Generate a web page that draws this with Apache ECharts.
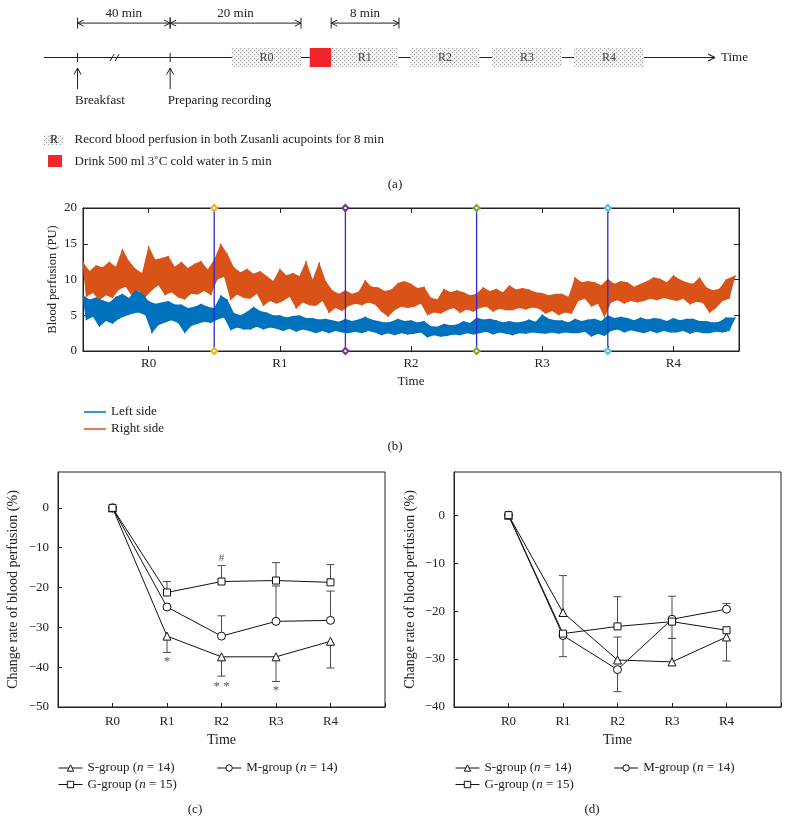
<!DOCTYPE html>
<html>
<head>
<meta charset="utf-8">
<script src="https://cdn.jsdelivr.net/npm/echarts@6/dist/echarts.min.js"></script>
<style>
html,body{margin:0;padding:0;background:#fff;}
#chart{width:790px;height:836px;}
</style>
</head>
<body>
<div id="chart"></div>
<script>
// ---------------- DATA ----------------
// Panel (a): schematic timeline (diagram units 0..100)
const stageLabels = ['R0','R1','R2','R3','R4'];
const stageStart = [28.0, 42.8, 54.6, 66.8, 79.0];
const stageEnd   = [38.3, 52.8, 64.9, 77.2, 89.4];
const drinkSpan = [39.6, 42.8];
const eventPos = [5.0, 18.8];
const eventLabels = ['Breakfast', 'Preparing recording'];
const breakPos = [10.6];
const spanStart = [5.0, 18.8, 42.8];
const spanEnd = [18.8, 38.3, 52.9];
const spanLabels = ['40 min', '20 min', '8 min'];

// Panel (b): blood perfusion traces (PU), one sample every 0.2 min, 40 min total
const sampleStep = 0.2;
const rightSide = [
 12.4, 7.6, 11.2, 8.1, 12.0,
 7.1, 11.7, 7.8, 12.5, 7.4,
 11.8, 8.6, 14.3, 9.0, 12.6,
 7.6, 11.5, 8.4, 10.9, 7.5,
 14.7, 8.5, 12.8, 9.2, 13.0,
 7.8, 13.3, 8.2, 11.8, 7.5,
 12.5, 7.2, 11.6, 8.0, 12.2,
 7.9, 12.6, 8.4, 11.4, 7.8,
 12.8, 10.0, 15.0, 10.4, 13.6,
 7.1, 11.7, 7.9, 11.0, 7.4,
 11.5, 7.3, 10.8, 8.0, 11.2,
 6.3, 10.5, 7.0, 9.8, 6.6,
 11.5, 7.0, 10.6, 7.6, 10.9,
 5.9, 10.5, 6.8, 12.6, 6.4,
 10.0, 6.3, 12.4, 7.0, 9.8,
 5.3, 8.5, 6.0, 8.0, 5.6,
 8.5, 6.3, 8.0, 6.6, 8.3,
 6.4, 9.9, 6.8, 9.0, 6.5,
 8.9, 5.5, 8.4, 4.8, 8.6,
 5.7, 9.5, 6.2, 9.8, 6.0,
 9.4, 6.2, 8.8, 6.6, 9.0,
 5.0, 7.5, 5.4, 7.2, 5.2,
 8.7, 5.7, 8.2, 6.0, 8.5,
 5.3, 8.2, 5.8, 7.8, 5.5,
 8.0, 6.0, 8.9, 6.2, 8.4,
 5.5, 8.7, 5.9, 8.2, 5.7,
 9.2, 5.7, 8.6, 6.0, 8.8,
 5.8, 8.6, 6.1, 8.2, 5.9,
 8.1, 5.2, 7.8, 5.6, 8.0,
 5.0, 8.0, 5.4, 7.6, 5.2,
 10.3, 7.0, 9.6, 7.3, 9.8,
 6.2, 9.6, 6.6, 9.2, 4.7,
 10.1, 6.8, 9.4, 7.1, 9.8,
 6.6, 9.6, 7.0, 9.0, 6.8,
 9.4, 7.0, 9.8, 7.3, 10.3,
 7.1, 10.1, 7.4, 9.6, 7.2,
 10.6, 7.0, 10.0, 7.3, 9.6,
 6.5, 9.4, 6.9, 10.3, 6.7,
 8.9, 5.3, 8.5, 6.0, 8.7,
 7.0, 10.0, 7.3, 9.6, 10.6
];
const leftSide = [
 7.8, 4.3, 7.2, 4.8, 7.5,
 3.4, 7.1, 4.2, 6.8, 3.8,
 7.6, 4.5, 8.0, 4.9, 7.4,
 5.2, 8.5, 5.4, 8.1, 5.0,
 7.0, 2.5, 6.6, 3.6, 6.8,
 4.0, 7.0, 4.3, 6.5, 3.9,
 6.5, 2.5, 6.0, 3.5, 6.2,
 3.8, 6.6, 4.1, 6.2, 3.9,
 6.0, 4.4, 7.8, 4.7, 7.2,
 2.9, 5.3, 3.3, 5.0, 3.0,
 5.5, 3.0, 6.2, 3.4, 5.6,
 3.0, 5.4, 3.3, 5.0, 3.1,
 5.0, 2.8, 4.7, 3.1, 4.9,
 2.7, 5.0, 3.0, 4.6, 2.8,
 4.6, 2.5, 4.4, 2.8, 4.5,
 2.5, 4.3, 2.8, 4.1, 2.6,
 4.5, 2.5, 4.2, 2.7, 4.4,
 2.5, 4.8, 2.8, 4.4, 2.6,
 4.2, 2.2, 4.0, 2.5, 4.1,
 2.2, 4.5, 2.5, 4.2, 2.3,
 4.3, 2.4, 4.0, 2.6, 4.2,
 1.9, 3.5, 2.2, 3.4, 2.0,
 3.8, 2.1, 3.6, 2.3, 3.7,
 2.2, 4.2, 2.5, 3.9, 2.3,
 4.7, 2.5, 4.4, 2.7, 4.5,
 2.3, 4.3, 2.6, 4.0, 2.4,
 4.2, 2.2, 4.0, 2.5, 4.1,
 2.4, 4.4, 2.6, 4.1, 2.5,
 5.1, 2.4, 4.5, 2.6, 4.3,
 2.4, 4.3, 2.6, 4.0, 2.5,
 4.5, 2.5, 4.2, 2.7, 4.4,
 2.0, 4.5, 2.4, 4.2, 2.1,
 5.0, 2.8, 4.6, 3.0, 4.8,
 2.6, 4.6, 2.9, 4.3, 2.7,
 4.7, 2.5, 4.4, 2.8, 4.6,
 2.5, 4.5, 2.8, 4.2, 2.6,
 4.6, 2.6, 4.3, 2.8, 4.5,
 2.4, 4.5, 2.7, 4.2, 2.5,
 4.2, 2.5, 4.0, 2.7, 4.1,
 2.6, 4.7, 2.8, 4.4, 4.7
];
const boundaryTimes = [8, 16, 24, 32];
const boundaryColors = ['#edb120', '#7e2f8e', '#77ac30', '#4dbeee'];

// Panels (c) and (d): change rate (%) at R0..R4
const categories = ['R0','R1','R2','R3','R4'];
const groupNames = ['S-group','M-group','G-group'];
const groupN = [14, 14, 15];
const cS = [0, -32.2, -37.4, -37.4, -33.5];
const cM = [0, -24.9, -32.2, -28.5, -28.25];
const cG = [0, -21.25, -18.5, -18.25, -18.7];
const cErrS = [null, -36.3, -42.25, -43.6, -40.2];
const cErrM = [null, null, -27.1, -19.6, -20.9];
const cErrG = [null, -18.5, -14.5, -13.75, -14.25];
const cMarks = ['', '*', '**', '*', ''];
const cMarkY = [null, -37.9, -44.0, -45.0, null];
const cHash = ['', '', '#', '', ''];
const cHashY = [null, null, -12.5, null, null];

const dS = [0, -20.3, -30.2, -30.6, -25.4];
const dM = [0, -25.1, -32.2, -21.7, -19.6];
const dG = [0, -24.7, -23.2, -22.2, -24.0];
const dErrS = [null, -12.6, -25.4, -25.7, -30.4];
const dErrM = [null, -29.5, -36.8, -16.9, -18.4];
const dErrG = [null, null, -17.0, -25.7, null];

// ---------------- STYLE / HELPERS ----------------
const FONT = "'Liberation Serif','DejaVu Serif',serif";
const INK = '#222';
const minus = v => String(v).replace('-', '\u2212');

function dotPattern() {
  const c = document.createElement('canvas');
  c.width = 4; c.height = 4;
  const g = c.getContext('2d');
  g.fillStyle = '#f3f3f3'; g.fillRect(0, 0, 4, 4);
  g.fillStyle = '#9c9c9c';
  g.fillRect(0, 0, 1, 1); g.fillRect(2, 2, 1, 1);
  return { image: c, repeat: 'repeat' };
}
const PATTERN = dotPattern();

function renderDiagram(params, api) {
  const y = api.coord([0, 0.5])[1];
  const X = v => api.coord([v, 0.5])[0];
  const ch = [];
  const L = (x1, y1, x2, y2, w) => ch.push({ type: 'line', shape: { x1, y1, x2, y2 }, style: { stroke: INK, lineWidth: w || 1 } });
  const T = (text, x, yy, align) => ch.push({ type: 'text', style: { text, x, y: yy, align: align || 'center', verticalAlign: 'middle', font: '13px ' + FONT, fill: INK } });
  L(X(0), y, X(100), y, 1.2);
  L(X(100) - 7, y - 3.5, X(100), y, 1.2);
  L(X(100) - 7, y + 3.5, X(100), y, 1.2);
  T('Time', X(100) + 6, y, 'left');
  eventPos.forEach((p, i) => {
    const x = X(p);
    L(x, y - 4.5, x, y + 4.5);
    L(x, y + 10.5, x, y + 31.5);
    L(x - 3.5, y + 17, x, y + 10.5);
    L(x + 3.5, y + 17, x, y + 10.5);
    T(eventLabels[i], x - 2.5, y + 43, 'left');
  });
  breakPos.forEach(p => {
    const x = X(p);
    L(x - 5, y + 3.5, x - 1, y - 3.5);
    L(x, y + 3.5, x + 4, y - 3.5);
  });
  spanStart.forEach((s, i) => {
    const x1 = X(s), x2 = X(spanEnd[i]);
    const by = y - 34.4;
    L(x1, by - 5.5, x1, by + 5.5);
    L(x2, by - 5.5, x2, by + 5.5);
    L(x1, by, x2, by);
    L(x1 + 6, by - 3, x1, by); L(x1 + 6, by + 3, x1, by);
    L(x2 - 6, by - 3, x2, by); L(x2 - 6, by + 3, x2, by);
    T(spanLabels[i], (x1 + x2) / 2, by - 10);
  });
  return { type: 'group', children: ch };
}

function renderStage(params, api) {
  const p0 = api.coord([api.value(0), 1]);
  const p1 = api.coord([api.value(1), 0]);
  return { type: 'group', children: [
    { type: 'rect', shape: { x: p0[0], y: p0[1], width: p1[0] - p0[0], height: p1[1] - p0[1] }, style: { fill: PATTERN } },
    { type: 'text', style: { text: stageLabels[params.dataIndex], x: (p0[0] + p1[0]) / 2, y: (p0[1] + p1[1]) / 2, align: 'center', verticalAlign: 'middle', font: '12px ' + FONT, fill: '#444' } }
  ] };
}
function renderDrink(params, api) {
  const p0 = api.coord([api.value(0), 1]);
  const p1 = api.coord([api.value(1), 0]);
  return { type: 'rect', shape: { x: p0[0], y: p0[1], width: p1[0] - p0[0], height: p1[1] - p0[1] }, style: { fill: '#f0262a' } };
}

// filled band between successive peaks and troughs of a noisy trace
function bandRenderer(vals, color) {
  return function (params, api) {
    const n = vals.length, up = [], lo = [];
    vals.forEach((v, i) => {
      const a = i > 0 ? vals[i - 1] : null, b = i < n - 1 ? vals[i + 1] : null;
      const p = api.coord([i * sampleStep, v]);
      const hi = (a === null || v >= a) && (b === null || v >= b);
      const low = (a === null || v <= a) && (b === null || v <= b);
      if (hi) up.push(p);
      if (low) lo.push(p);
    });
    return { type: 'polygon', shape: { points: up.concat(lo.reverse()) }, style: { fill: color, lineWidth: 0 } };
  };
}

function errRender(params, api) {
  const x = api.value(0), m = api.value(1), e = api.value(2);
  const p0 = api.coord([x, m]), p1 = api.coord([x, e]);
  return { type: 'group', children: [
    { type: 'line', shape: { x1: p0[0], y1: p0[1], x2: p1[0], y2: p1[1] }, style: { stroke: '#4a4a4a', lineWidth: 1 } },
    { type: 'line', shape: { x1: p1[0] - 4, y1: p1[1], x2: p1[0] + 4, y2: p1[1] }, style: { stroke: '#4a4a4a', lineWidth: 1 } }
  ] };
}
function markRender(params, api) {
  const p = api.coord([api.value(0), api.value(1)]);
  const txt = api.value(2);
  const star = txt.indexOf('*') >= 0;
  return { type: 'text', style: { text: star ? txt.split('').join(' ') : txt, x: p[0], y: p[1] + (star ? 3 : 0), align: 'center', verticalAlign: 'middle', font: (star ? '13px ' : '11px ') + FONT, fill: '#555' } };
}

function errData(means, ends) {
  const out = [];
  ends.forEach((e, i) => { if (e !== null) out.push([i + 1, means[i], e]); });
  return out;
}
function markData(ys, texts) {
  const out = [];
  ys.forEach((y, i) => { if (y !== null) out.push([i + 1, y, texts[i]]); });
  return out;
}

const symbols = ['triangle', 'circle', 'rect'];
const symSizes = [8, 8, 7];
function groupSeries(values, gi, axisIdx) {
  return {
    type: 'line', name: groupNames[gi], xAxisIndex: axisIdx, yAxisIndex: axisIdx,
    data: values.map((v, i) => [i + 1, v]),
    symbol: symbols[gi], symbolSize: symSizes[gi], showSymbol: true,
    itemStyle: { color: '#fff', borderColor: '#111', borderWidth: 1 },
    lineStyle: { color: '#111', width: 1 },
    z: 5, animation: false
  };
}

const axisText = { fontFamily: FONT, fontSize: 13, color: INK };
function panelXAxis(gi) {
  return {
    gridIndex: gi, type: 'value', min: 0, max: 6, interval: 1,
    axisLine: { show: true, onZero: false, lineStyle: { color: INK } },
    axisTick: { show: true, inside: true, length: 4, lineStyle: { color: INK } },
    axisLabel: Object.assign({ margin: 8, formatter: v => (v >= 1 && v <= 5) ? categories[v - 1] : '' }, axisText),
    splitLine: { show: false },
    name: 'Time', nameLocation: 'middle', nameGap: 26,
    nameTextStyle: { fontFamily: FONT, fontSize: 14, color: INK }
  };
}
function panelYAxis(gi, min, gap) {
  return {
    gridIndex: gi, type: 'value', min: min, max: 9, interval: 10,
    axisLine: { show: true, onZero: false, lineStyle: { color: INK } },
    axisTick: { show: true, inside: true, length: 4, lineStyle: { color: INK } },
    axisLabel: Object.assign({ margin: 9, showMaxLabel: false, formatter: v => (v % 10 === 0) ? minus(v) : '' }, axisText),
    splitLine: { show: false },
    name: 'Change rate of blood perfusion (%)', nameLocation: 'middle', nameGap: gap,
    nameTextStyle: { fontFamily: FONT, fontSize: 14, color: INK }
  };
}
function groupLegend(names, left, top) {
  return {
    data: names, left: left, top: top, orient: 'horizontal', itemGap: 42, padding: 0,
    itemWidth: 24, itemHeight: 8, selectedMode: false,
    lineStyle: { width: 1 }, itemStyle: { borderWidth: 1 },
    formatter: name => name + ' ({i|n} = ' + groupN[groupNames.indexOf(name)] + ')',
    textStyle: { fontFamily: FONT, fontSize: 13, color: INK, rich: { i: { fontFamily: FONT, fontSize: 13, fontStyle: 'italic', color: INK } } }
  };
}

const chart = echarts.init(document.getElementById('chart'), null, { renderer: 'canvas' });

const traceSeries = (name, vals, color, z) => ({
  type: 'line', name: name, xAxisIndex: 1, yAxisIndex: 1,
  data: vals.map((v, i) => [i * sampleStep, v]),
  showSymbol: false, symbol: 'none', lineStyle: { color: color, width: 0.9 }, itemStyle: { color: color },
  z: z, animation: false
});
const bandSeries = (vals, color, z) => ({
  type: 'custom', xAxisIndex: 1, yAxisIndex: 1, data: [[0, 0]],
  renderItem: bandRenderer(vals, color), z: z, silent: true
});

const boundarySeries = boundaryTimes.map((t, i) => ({
  type: 'line', xAxisIndex: 1, yAxisIndex: 1,
  data: [[t, 0], [t, 20]],
  symbol: 'emptyDiamond', symbolSize: 6, showSymbol: true,
  itemStyle: { color: boundaryColors[i], borderColor: boundaryColors[i] },
  lineStyle: { color: '#2b2bd2', width: 1.3 },
  z: 8, animation: false, silent: true
}));

const option = {
  backgroundColor: '#fff',
  animation: false,
  grid: [
    { left: 44, top: 48, width: 671, height: 19 },
    { left: 83, top: 208, width: 656, height: 143, show: true, borderColor: INK, borderWidth: 1, backgroundColor: 'transparent' },
    { left: 58, top: 472, width: 327, height: 235, show: true, borderColor: INK, borderWidth: 1, backgroundColor: 'transparent' },
    { left: 454, top: 472, width: 327, height: 235, show: true, borderColor: INK, borderWidth: 1, backgroundColor: 'transparent' }
  ],
  xAxis: [
    { gridIndex: 0, type: 'value', min: 0, max: 100, show: false },
    { gridIndex: 1, type: 'value', min: 0, max: 40, interval: 4, position: 'bottom',
      axisLine: { show: true, onZero: false, lineStyle: { color: INK } },
      axisTick: { show: true, inside: true, length: 5, lineStyle: { color: INK } },
      axisLabel: Object.assign({ margin: 6,
        formatter: v => (v % 8 === 4) ? categories[(v - 4) / 8] : '' }, axisText),
      splitLine: { show: false },
      name: 'Time', nameLocation: 'middle', nameGap: 24,
      nameTextStyle: { fontFamily: FONT, fontSize: 13, color: INK } },
    panelXAxis(2),
    panelXAxis(3),
    { gridIndex: 1, type: 'value', min: 0, max: 40, interval: 4, position: 'top',
      axisLine: { show: true, onZero: false, lineStyle: { color: INK } },
      axisTick: { show: true, inside: true, length: 5, lineStyle: { color: INK } },
      axisLabel: { show: false }, splitLine: { show: false } }
  ],
  yAxis: [
    { gridIndex: 0, type: 'value', min: 0, max: 1, show: false },
    { gridIndex: 1, type: 'value', min: 0, max: 20, interval: 5,
      axisLine: { show: true, onZero: false, lineStyle: { color: INK } },
      axisTick: { show: true, inside: true, length: 5, lineStyle: { color: INK } },
      axisLabel: Object.assign({ margin: 6 }, axisText),
      splitLine: { show: false },
      name: 'Blood perfusion (PU)', nameLocation: 'middle', nameGap: 24, nameMoveOverlap: false,
      nameTextStyle: { fontFamily: FONT, fontSize: 12.5, color: INK } },
    panelYAxis(2, -50, 38),
    panelYAxis(3, -40, 37),
    { gridIndex: 1, type: 'value', min: 0, max: 20, interval: 5, position: 'right',
      axisLine: { show: true, onZero: false, lineStyle: { color: INK } },
      axisTick: { show: true, inside: true, length: 5, lineStyle: { color: INK } },
      axisLabel: { show: false }, splitLine: { show: false } }
  ],
  legend: [
    { data: [{ name: 'Left side', icon: 'rect' }, { name: 'Right side', icon: 'rect' }], orient: 'vertical', left: 84, top: 405.5, padding: 0,
      itemWidth: 22, itemHeight: 1.5, itemGap: 4, selectedMode: false,
      textStyle: { fontFamily: FONT, fontSize: 13, color: INK } },
    groupLegend(['S-group', 'M-group'], 58, 761.5),
    groupLegend(['G-group'], 58, 778),
    groupLegend(['S-group', 'M-group'], 455, 761.5),
    groupLegend(['G-group'], 455, 778)
  ],
  graphic: [
    { type: 'rect', shape: { x: 44, y: 135, width: 20, height: 10 }, style: { fill: PATTERN } },
    { type: 'text', x: 54, y: 140, style: { text: 'R', align: 'center', verticalAlign: 'middle', font: '12px ' + FONT, fill: INK } },
    { type: 'text', x: 74.5, y: 140, style: { text: 'Record blood perfusion in both Zusanli acupoints for 8 min', align: 'left', verticalAlign: 'middle', font: '13px ' + FONT, fill: INK } },
    { type: 'rect', shape: { x: 48, y: 155, width: 14, height: 12 }, style: { fill: '#f0262a' } },
    { type: 'text', x: 74.5, y: 162, style: { text: 'Drink 500 ml 3\u02daC cold water in 5 min', align: 'left', verticalAlign: 'middle', font: '13px ' + FONT, fill: INK } },
    { type: 'text', x: 395, y: 185, style: { text: '(a)', align: 'center', verticalAlign: 'middle', font: '13px ' + FONT, fill: INK } },
    { type: 'text', x: 395, y: 447, style: { text: '(b)', align: 'center', verticalAlign: 'middle', font: '13px ' + FONT, fill: INK } },
    { type: 'text', x: 195, y: 810, style: { text: '(c)', align: 'center', verticalAlign: 'middle', font: '13px ' + FONT, fill: INK } },
    { type: 'text', x: 592, y: 810, style: { text: '(d)', align: 'center', verticalAlign: 'middle', font: '13px ' + FONT, fill: INK } }
  ],
  series: [
    // Panel (a)
    { type: 'custom', xAxisIndex: 0, yAxisIndex: 0, data: [[0, 0]], renderItem: renderDiagram, z: 2, silent: true },
    { type: 'custom', xAxisIndex: 0, yAxisIndex: 0, data: stageStart.map((s, i) => [s, stageEnd[i]]), renderItem: renderStage, z: 3, silent: true },
    { type: 'custom', xAxisIndex: 0, yAxisIndex: 0, data: [drinkSpan], renderItem: renderDrink, z: 3, silent: true },
    // Panel (b)
    bandSeries(rightSide, '#d95319', 3),
    traceSeries('Right side', rightSide, '#d95319', 3),
    bandSeries(leftSide, '#0072bd', 4),
    traceSeries('Left side', leftSide, '#0072bd', 4),
    ...boundarySeries,
    // Panel (c)
    { type: 'custom', xAxisIndex: 2, yAxisIndex: 2, data: errData(cS, cErrS).concat(errData(cM, cErrM), errData(cG, cErrG)), renderItem: errRender, z: 2, silent: true },
    groupSeries(cS, 0, 2), groupSeries(cM, 1, 2), groupSeries(cG, 2, 2),
    { type: 'custom', xAxisIndex: 2, yAxisIndex: 2, data: markData(cMarkY, cMarks).concat(markData(cHashY, cHash)), renderItem: markRender, z: 6, silent: true },
    // Panel (d)
    { type: 'custom', xAxisIndex: 3, yAxisIndex: 3, data: errData(dS, dErrS).concat(errData(dM, dErrM), errData(dG, dErrG)), renderItem: errRender, z: 2, silent: true },
    groupSeries(dS, 0, 3), groupSeries(dM, 1, 3), groupSeries(dG, 2, 3)
  ]
};
chart.setOption(option);
</script>
</body>
</html>
